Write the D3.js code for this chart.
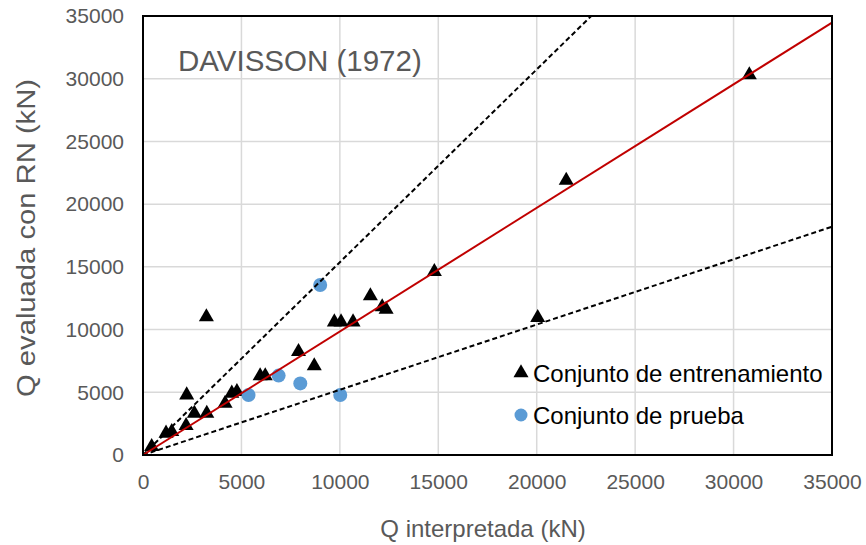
<!DOCTYPE html>
<html>
<head>
<meta charset="utf-8">
<script src="https://cdn.jsdelivr.net/npm/d3@7"></script>
<style>
  html, body { margin: 0; padding: 0; background: #fff; }
  text { font-family: "Liberation Sans", Arial, sans-serif; }
</style>
</head>
<body>
<svg id="chart" width="866" height="545"></svg>
<script>
// Training set (triangles): interpreted vs. network-evaluated capacity (kN)
const trainX = [440, 1170, 1460, 2190, 2220, 2610, 3240, 3220, 4170, 4510, 4770, 5950, 6210,
                7900, 8700, 9720, 10060, 10670, 11550, 12150, 12350, 14800, 20050, 21500, 30800];
const trainY = [660, 1730, 1860, 2340, 4780, 3320, 3320, 11000, 4120, 4920, 5050, 6300, 6300,
                8240, 7100, 10600, 10600, 10600, 12680, 11800, 11600, 14620, 10950, 21900, 30300];

// Test set (circles)
const testX = [5360, 6890, 7990, 9000, 10020];
const testY = [4780, 6330, 5710, 13550, 4780];

// Reference lines: [x0, y0, x1, y1]
const fitLine   = [0, 0, 35000, 34475];
const upperLine = [0, 0, 22770, 35000];
const lowerLine = [0, 0, 35000, 18200];

const xTicks = [0, 5000, 10000, 15000, 20000, 25000, 30000, 35000];
const yTicks = [0, 5000, 10000, 15000, 20000, 25000, 30000, 35000];

const titleText = "DAVISSON (1972)";
const xTitle = "Q interpretada (kN)";
const yTitle = "Q evaluada con RN (kN)";
const legendLabels = ["Conjunto de entrenamiento", "Conjunto de prueba"];

const svg = d3.select("#chart");
const plot = { left: 143, right: 832, top: 16, bottom: 455 };

const x = d3.scaleLinear().domain([0, 35000]).range([plot.left, plot.right]);
const y = d3.scaleLinear().domain([0, 35000]).range([plot.bottom, plot.top]);

const gridColor = "#d9d9d9";
const tickColor = "#595959";

// Gridlines
const grid = svg.append("g");
grid.selectAll("line.v").data(xTicks.slice(1, -1)).enter().append("line")
  .attr("x1", d => x(d)).attr("x2", d => x(d))
  .attr("y1", plot.top).attr("y2", plot.bottom)
  .attr("stroke", gridColor).attr("stroke-width", 1.5);
grid.selectAll("line.h").data(yTicks.slice(1, -1)).enter().append("line")
  .attr("x1", plot.left).attr("x2", plot.right)
  .attr("y1", d => y(d)).attr("y2", d => y(d))
  .attr("stroke", gridColor).attr("stroke-width", 1.5);

// Axes (tick labels only, Excel style)
const xAxis = svg.append("g").attr("transform", `translate(0,${plot.bottom})`)
  .call(d3.axisBottom(x).tickValues(xTicks).tickSize(0).tickPadding(19).tickFormat(d3.format("d")));
const yAxis = svg.append("g").attr("transform", `translate(${plot.left},0)`)
  .call(d3.axisLeft(y).tickValues(yTicks).tickSize(0).tickPadding(19).tickFormat(d3.format("d")));
[xAxis, yAxis].forEach(a => {
  a.select(".domain").remove();
  a.selectAll("text").attr("fill", tickColor).attr("font-size", 21)
    .attr("font-family", "Liberation Sans, Arial, sans-serif");
});

// Markers: training triangles
const tri = d3.symbol().type(d3.symbolTriangle).size(98);
svg.append("g").selectAll("path").data(d3.zip(trainX, trainY)).enter().append("path")
  .attr("d", tri)
  .attr("transform", d => `translate(${x(d[0])},${y(d[1])})`)
  .attr("fill", "#000");

// Markers: test circles
svg.append("g").selectAll("circle").data(d3.zip(testX, testY)).enter().append("circle")
  .attr("cx", d => x(d[0])).attr("cy", d => y(d[1])).attr("r", 7)
  .attr("fill", "#5b9bd5");

// Reference lines
function refLine(l, color, dash) {
  svg.append("line")
    .attr("x1", x(l[0])).attr("y1", y(l[1]))
    .attr("x2", x(l[2])).attr("y2", y(l[3]))
    .attr("stroke", color).attr("stroke-width", 2)
    .attr("stroke-dasharray", dash);
}
refLine(upperLine, "#000", "5,3");
refLine(lowerLine, "#000", "5,3");
refLine(fitLine, "#c00000", null);

// Plot frame
svg.append("rect")
  .attr("x", plot.left).attr("y", plot.top)
  .attr("width", plot.right - plot.left).attr("height", plot.bottom - plot.top)
  .attr("fill", "none").attr("stroke", "#000").attr("stroke-width", 2);

// Title inside the plot
svg.append("text").attr("x", 178).attr("y", 71)
  .attr("font-size", 29.5).attr("fill", tickColor).text(titleText);

// Axis titles
svg.append("text").attr("x", 483).attr("y", 537)
  .attr("text-anchor", "middle").attr("font-size", 24).attr("fill", tickColor).text(xTitle);
svg.append("text")
  .attr("transform", `translate(35,238) rotate(-90)`)
  .attr("text-anchor", "middle").attr("font-size", 25)
  .attr("textLength", 318).attr("lengthAdjust", "spacingAndGlyphs")
  .attr("fill", tickColor).text(yTitle);

// Legend
const legend = svg.append("g");
const legY = [373, 415];
legend.append("path").attr("d", d3.symbol().type(d3.symbolTriangle).size(98))
  .attr("transform", `translate(521,${legY[0]})`).attr("fill", "#000");
legend.append("circle").attr("cx", 521).attr("cy", legY[1]).attr("r", 6.5).attr("fill", "#5b9bd5");
legend.selectAll("text").data(legendLabels).enter().append("text")
  .attr("x", 533).attr("y", (d, i) => legY[i] + 9)
  .attr("font-size", 24).attr("fill", "#000").text(d => d);
</script>
</body>
</html>
